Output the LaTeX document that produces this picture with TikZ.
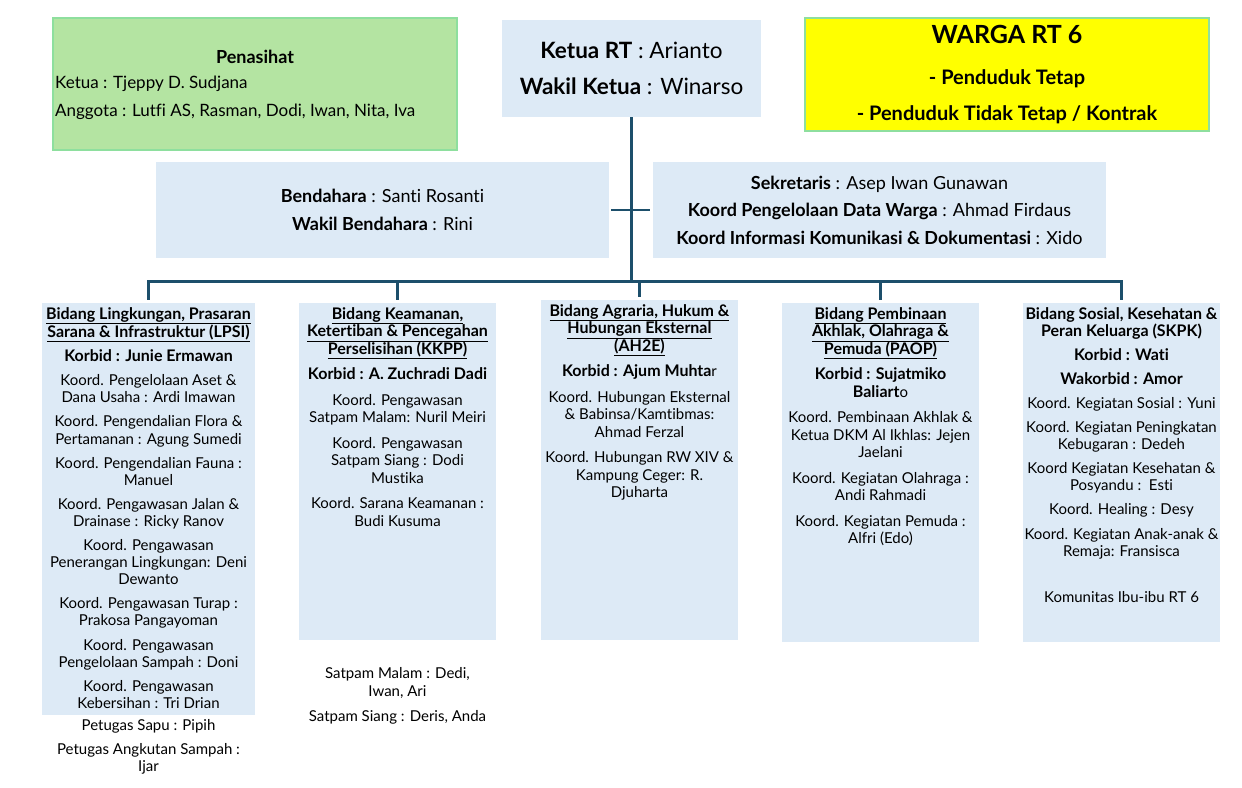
\documentclass[tikz,border=0pt]{standalone}
\usepackage{fontspec}
\setmainfont{Lato}[Ligatures=NoCommon]
\usetikzlibrary{positioning}
\definecolor{boxblue}{HTML}{DDEAF6}
\definecolor{penasihatgreen}{HTML}{B4E4A2}
\definecolor{edgegreen}{HTML}{8EDF9E}
\definecolor{wargayellow}{HTML}{FFFF00}
\definecolor{linkteal}{HTML}{1D4F6B}
\newcommand{\tebal}[1]{{\fontsize{16}{17}\selectfont\textbf{#1}}}
\newcommand{\judul}[1]{\underline{\tebal{#1}}}

\begin{document}
\begin{tikzpicture}[x=1pt,y=-1pt,
  panel/.style={fill=boxblue, inner sep=0pt, align=center},
  bidang/.style={fill=boxblue, inner sep=0pt, anchor=north, minimum width=197pt},
  isi/.style={anchor=north, align=center, inner sep=0pt, font=\fontsize{15}{17.5}\selectfont},
  rapat/.style={font=\fontsize{15}{17.1}\selectfont},
  link/.style={draw=linkteal, line width=2.8pt}]
  \useasboundingbox (0,0) rectangle (1242,787);

  % baris atas
  \node[fill=penasihatgreen, draw=edgegreen, line width=1.5pt, minimum width=404pt, minimum height=132pt] (penasihat) at (255,84) {};
  \node[font=\fontsize{18}{20}\selectfont\bfseries] (penasihatjudul) at (255,57) {Penasihat};
  \node[font=\fontsize{17}{20}\selectfont, anchor=west, inner sep=0pt] (penasihatketua) at (55,84) {Ketua : Tjeppy D. Sudjana};
  \node[font=\fontsize{17}{20}\selectfont, anchor=west, inner sep=0pt] (penasihatanggota) at (55,112) {Anggota : Lutfi AS, Rasman, Dodi, Iwan, Nita, Iva};

  \node[panel, minimum width=259pt, minimum height=97pt, font=\fontsize{22.5}{36}\selectfont] (ketua) at (631.5,68.5)
    {\textbf{Ketua RT} : Arianto\\\textbf{Wakil Ketua} : Winarso};

  \node[fill=wargayellow, draw=edgegreen, line width=1.5pt, minimum width=404pt, minimum height=113pt] (warga) at (1007,74.5) {};
  \node[font=\fontsize{25}{28}\selectfont\bfseries] (wargajudul) at (1007,34) {WARGA RT 6};
  \node[font=\fontsize{20}{24}\selectfont\bfseries] (wargatetap) at (1007,79) {- Penduduk Tetap};
  \node[font=\fontsize{20}{24}\selectfont\bfseries] (wargakontrak) at (1007,115) {- Penduduk Tidak Tetap / Kontrak};

  % baris kedua
  \node[panel, minimum width=453pt, minimum height=96pt, font=\fontsize{18}{28}\selectfont] (bendahara) at (382.5,210)
    {\textbf{Bendahara} : Santi Rosanti\\\textbf{Wakil Bendahara} : Rini};
  \node[panel, minimum width=453pt, minimum height=96pt, font=\fontsize{18}{27.5}\selectfont] (sekretaris) at (879.5,210)
    {\textbf{Sekretaris} : Asep Iwan Gunawan\\\textbf{Koord Pengelolaan Data Warga} : Ahmad Firdaus\\\textbf{Koord Informasi Komunikasi \& Dokumentasi} : Xido};

  % bidang
  \node[bidang, minimum width=213pt, minimum height=412pt] (lpsi) at (148.5,303) {};
  \node[bidang, minimum height=337pt] (kkpp) at (397.5,303) {};
  \node[bidang, minimum height=340pt] (ah2e) at (639.5,300) {};
  \node[bidang, minimum height=339pt] (paop) at (880.5,303) {};
  \node[bidang, minimum height=339pt] (skpk) at (1121.5,303) {};

  % garis
  \foreach \b in {lpsi,kkpp,ah2e,paop,skpk}
    \draw[link, shorten >=3pt] (ketua.south) -- ++(0,164) -| (\b.north);
  \draw[link, line width=2.4pt] ([xshift=2pt]bendahara.east) -- ([xshift=-3pt]sekretaris.west);

  \node[isi, rapat, below=4pt of lpsi.north] (lpsiisi) {%
    \judul{Bidang Lingkungan, Prasaran}\\
    \judul{Sarana \& Infrastruktur (LPSI)}\\[7pt]
    \tebal{Korbid : Junie Ermawan}\\[7pt]
    Koord. Pengelolaan Aset \&\\Dana Usaha : Ardi Imawan\\[7pt]
    Koord. Pengendalian Flora \&\\Pertamanan : Agung Sumedi\\[7pt]
    Koord. Pengendalian Fauna :\\Manuel\\[7pt]
    Koord. Pengawasan Jalan \&\\Drainase : Ricky Ranov\\[7pt]
    Koord. Pengawasan\\Penerangan Lingkungan: Deni\\Dewanto\\[7pt]
    Koord. Pengawasan Turap :\\Prakosa Pangayoman\\[7pt]
    Koord. Pengawasan\\Pengelolaan Sampah : Doni\\[7pt]
    Koord. Pengawasan\\Kebersihan : Tri Drian};
  \node[isi, rapat, below=4pt of lpsi] (lpsiluar) {Petugas Sapu : Pipih\\[7pt]Petugas Angkutan Sampah :\\Ijar};

  \node[isi, below=4pt of kkpp.north] (kkppisi) {%
    \judul{Bidang Keamanan,}\\
    \judul{Ketertiban \& Pencegahan}\\
    \judul{Perselisihan (KKPP)}\\[8pt]
    \tebal{Korbid : A. Zuchradi Dadi}\\[8pt]
    Koord. Pengawasan\\Satpam Malam: Nuril Meiri\\[8pt]
    Koord. Pengawasan\\Satpam Siang : Dodi\\Mustika\\[8pt]
    Koord. Sarana Keamanan :\\Budi Kusuma};
  \node[isi, below=27pt of kkpp] (kkppluar) {Satpam Malam : Dedi,\\Iwan, Ari\\[8pt]Satpam Siang : Deris, Anda};

  \node[isi, below=4pt of ah2e.north] (ah2eisi) {%
    \judul{Bidang Agraria, Hukum \&}\\
    \judul{Hubungan Eksternal}\\
    \judul{(AH2E)}\\[8pt]
    \tebal{Korbid : Ajum Muhta}r\\[8pt]
    Koord. Hubungan Eksternal\\\& Babinsa/Kamtibmas:\\Ahmad Ferzal\\[8pt]
    Koord. Hubungan RW XIV \&\\Kampung Ceger: R.\\Djuharta};

  \node[isi, below=4pt of paop.north] (paopisi) {%
    \judul{Bidang Pembinaan}\\
    \judul{Akhlak, Olahraga \&}\\
    \judul{Pemuda (PAOP)}\\[8pt]
    \tebal{Korbid : Sujatmiko}\\\tebal{Baliart}o\\[8pt]
    Koord. Pembinaan Akhlak \&\\Ketua DKM Al Ikhlas: Jejen\\Jaelani\\[8pt]
    Koord. Kegiatan Olahraga :\\Andi Rahmadi\\[8pt]
    Koord. Kegiatan Pemuda :\\Alfri (Edo)};

  \node[isi, rapat, below=4pt of skpk.north] (skpkisi) {%
    \tebal{Bidang Sosial, Kesehatan \&}\\
    \tebal{Peran Keluarga (SKPK)}\\[7pt]
    \tebal{Korbid : Wati}\\[7pt]
    \tebal{Wakorbid : Amor}\\[7pt]
    Koord. Kegiatan Sosial : Yuni\\[7pt]
    Koord. Kegiatan Peningkatan\\Kebugaran : Dedeh\\[7pt]
    Koord Kegiatan Kesehatan \&\\Posyandu :\ \ Esti\\[7pt]
    Koord. Healing : Desy\\[7pt]
    Koord. Kegiatan Anak-anak \&\\Remaja: Fransisca\\[29pt]
    Komunitas Ibu-ibu RT 6};
\end{tikzpicture}
\end{document}
